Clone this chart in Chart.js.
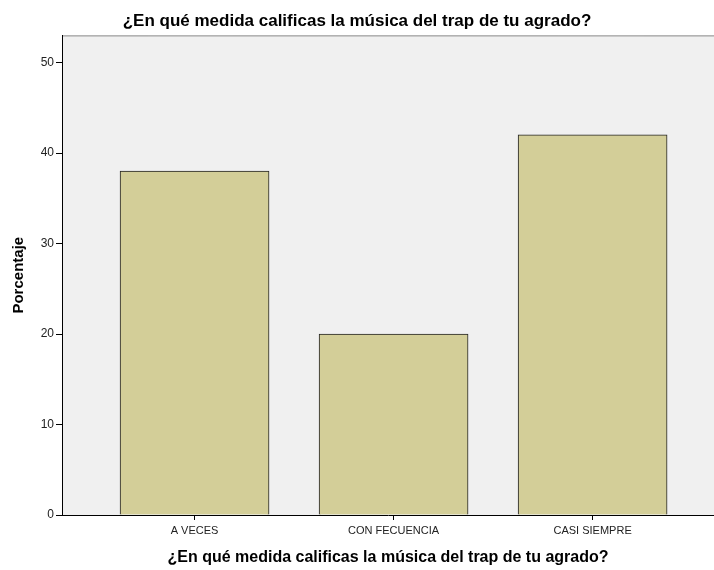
<!DOCTYPE html>
<html>
<head>
<meta charset="utf-8">
<script src="https://cdn.jsdelivr.net/npm/chart.js@4"></script>
<style>
    html, body { margin: 0; padding: 0; background: #fff; }
    #wrap { width: 714px; height: 570px; }
</style>
</head>
<body>
<div id="wrap"><canvas id="barChart" width="714" height="570"></canvas></div>
<script>
// Chart data
const categories = ['A VECES', 'CON FECUENCIA', 'CASI SIEMPRE'];
const percentages = [38, 20, 42];
const yTicks = [0, 10, 20, 30, 40, 50];
const chartTitle = '¿En qué medida calificas la música del trap de tu agrado?';

// Category positions on the linear x axis (1, 2, 3)
const xPositions = categories.map((c, i) => i + 1);

// Plot background + grey top frame line
const plotBackground = {
    id: 'plotBackground',
    beforeDraw(chart) {
        const { ctx, chartArea } = chart;
        ctx.save();
        ctx.fillStyle = '#f0f0f0';
        ctx.fillRect(chartArea.left, chartArea.top, chartArea.right - chartArea.left, chartArea.bottom - chartArea.top);
        ctx.strokeStyle = '#8a8a8a';
        ctx.lineWidth = 1;
        ctx.beginPath();
        ctx.moveTo(chartArea.left, chartArea.top + 0.5);
        ctx.lineTo(chartArea.right, chartArea.top + 0.5);
        ctx.stroke();
        ctx.restore();
    }
};

document.addEventListener('DOMContentLoaded', function() {
    const ctx = document.getElementById('barChart');
    new Chart(ctx, {
        type: 'bar',
        data: {
            datasets: [{
                label: 'Porcentaje',
                data: xPositions.map((x, i) => ({ x: x, y: percentages[i] })),
                backgroundColor: '#d3ce98',
                borderColor: '#222',
                borderWidth: 1,
                barThickness: 149
            }]
        },
        plugins: [plotBackground],
        options: {
            responsive: false,
            animation: false,
            layout: { padding: { top: 0, right: 0, bottom: 0, left: 0 } },
            plugins: {
                legend: { display: false },
                tooltip: { enabled: false },
                title: {
                    display: true,
                    text: chartTitle,
                    color: '#000',
                    font: { family: 'Liberation Sans', size: 17, weight: 'bold' },
                    padding: { top: 11, bottom: 4 }
                }
            },
            scales: {
                x: {
                    type: 'linear',
                    min: 0.334,
                    max: 3.61,
                    offset: false,
                    afterBuildTicks: function(scale) {
                        scale.ticks = xPositions.map(v => ({ value: v }));
                    },
                    afterFit: function(scale) {
                        scale.height = 55;
                    },
                    ticks: {
                        color: '#222',
                        font: { family: 'Liberation Sans', size: 11 },
                        padding: 4,
                        maxRotation: 0,
                        callback: function(value) {
                            const i = xPositions.indexOf(value);
                            return i >= 0 ? categories[i] : '';
                        }
                    },
                    grid: {
                        offset: false,
                        drawOnChartArea: false,
                        drawTicks: true,
                        tickLength: 5,
                        color: '#000'
                    },
                    border: { display: true, color: '#000', width: 1 },
                    title: {
                        display: true,
                        text: chartTitle,
                        color: '#000',
                        font: { family: 'Liberation Sans', size: 16, weight: 'bold' },
                        padding: { top: 4, bottom: 3 }
                    }
                },
                y: {
                    min: 0,
                    max: 53,
                    afterBuildTicks: function(scale) {
                        scale.ticks = yTicks.map(v => ({ value: v }));
                    },
                    afterFit: function(scale) {
                        scale.width = 62;
                    },
                    ticks: {
                        color: '#222',
                        font: { family: 'Liberation Sans', size: 12 },
                        padding: 2
                    },
                    grid: {
                        drawOnChartArea: false,
                        drawTicks: true,
                        tickLength: 6,
                        color: '#000'
                    },
                    border: { display: true, color: '#000', width: 1 },
                    title: {
                        display: true,
                        text: 'Porcentaje',
                        color: '#000',
                        font: { family: 'Liberation Sans', size: 15, weight: 'bold' },
                        padding: { top: 10, bottom: 4 }
                    }
                }
            }
        }
    });
});
</script>
</body>
</html>
